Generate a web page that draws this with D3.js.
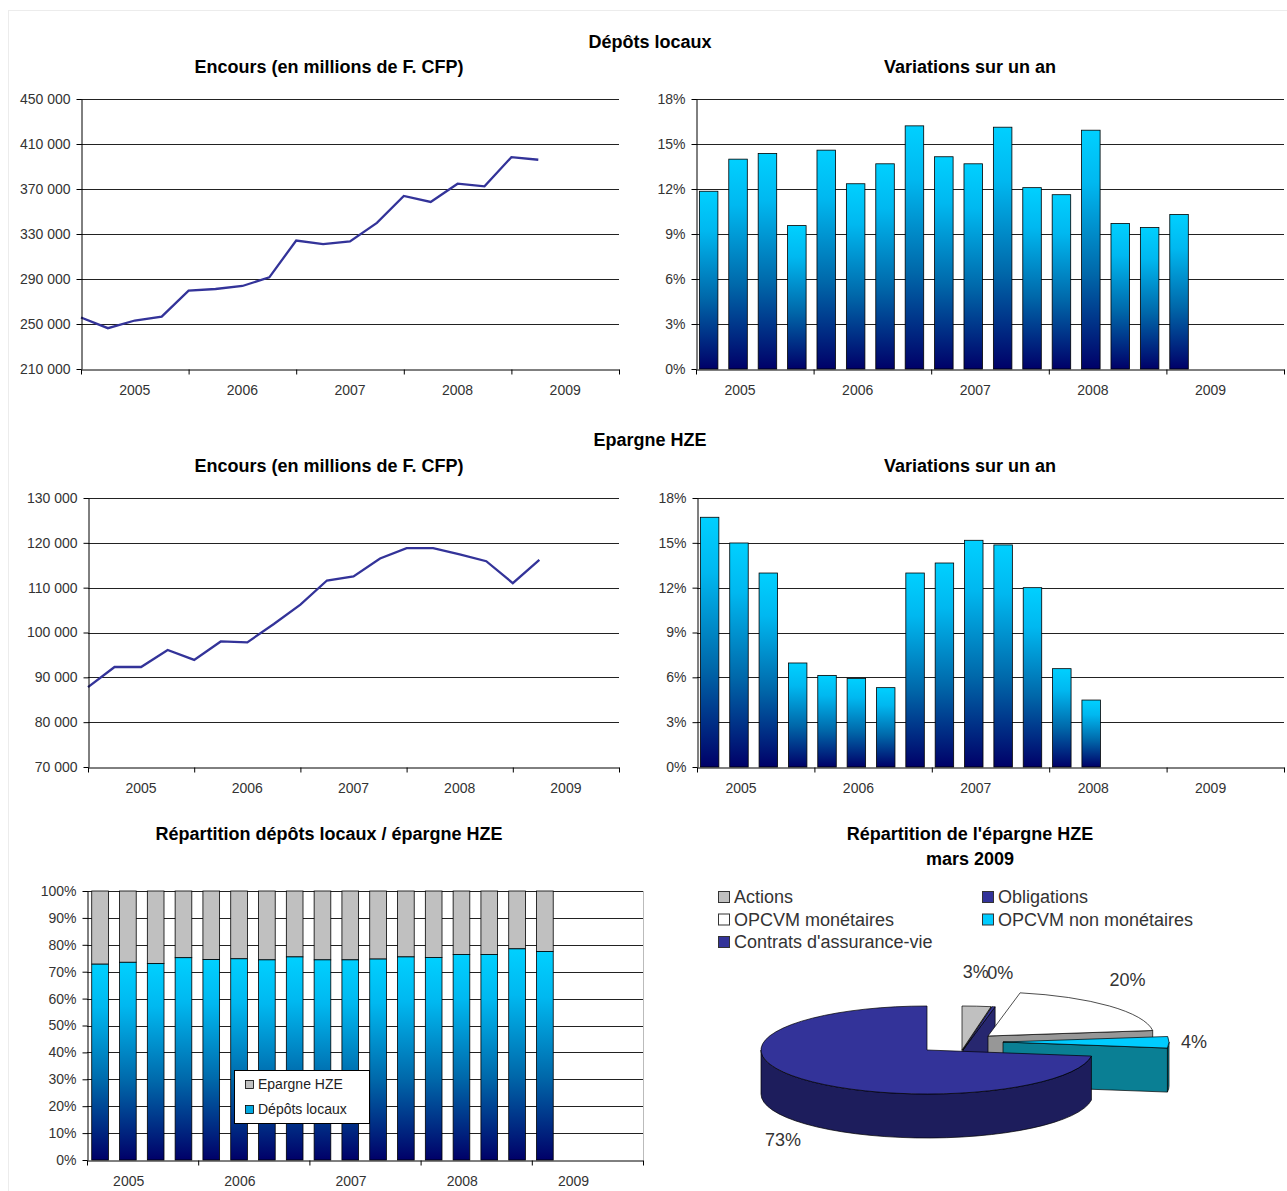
<!DOCTYPE html>
<html><head><meta charset="utf-8">
<script src="https://cdn.jsdelivr.net/npm/d3@7"></script>
<style>body{margin:0;background:#fff;} text{font-family:"Liberation Sans",Arial,sans-serif;}</style>
</head><body><svg id="c" width="1287" height="1191"></svg>
<script>
// ---------------- DATA ----------------
const years = ["2005","2006","2007","2008","2009"];
const depotsEncours = [255800,246300,253100,256600,279700,281100,283800,291500,324200,321000,323400,339900,363800,358500,374700,372400,398300,396000];
const depotsVar = [11.85,13.99,14.37,9.56,14.59,12.35,13.68,16.21,14.15,13.68,16.12,12.09,11.62,15.92,9.70,9.43,10.30];
const hzeEncours = [87800,92300,92300,96100,93900,98000,97800,101900,106200,111600,112500,116500,118800,118800,117400,115900,111000,116200];
const hzeVar = [16.71,14.99,12.98,6.96,6.13,5.93,5.31,12.98,13.65,15.17,14.86,12.0,6.58,4.48];
const partDepots = [72.8,73.5,73.0,75.2,74.5,74.8,74.4,75.5,74.4,74.4,74.7,75.5,75.3,76.4,76.4,78.5,77.5];
const depotsTicks = [210000,250000,290000,330000,370000,410000,450000];
const hzeTicks = [70000,80000,90000,100000,110000,120000,130000];
const varTicks = [0,3,6,9,12,15,18];
const partTicks = [0,10,20,30,40,50,60,70,80,90,100];
const pieNames = ["Actions","Obligations","OPCVM monétaires","OPCVM non monétaires","Contrats d'assurance-vie"];
const pieValues = [2.8,0.3,19.9,4.2,72.8];
const pieLabels = ["3%","0%","20%","4%","73%"];
const stackNames = ["Epargne HZE","Dépôts locaux"];

// ---------------- STYLE / LAYOUT ----------------
const svg = d3.select("#c");
const defs = svg.append("defs");
const grad = defs.append("linearGradient").attr("id","bg").attr("x1",0).attr("y1",0).attr("x2",0).attr("y2",1);
[[0,"#00d0ff"],[0.22,"#00b8f0"],[0.6,"#0068aa"],[1,"#000068"]].forEach(s=>grad.append("stop").attr("offset",s[0]).attr("stop-color",s[1]));

svg.append("rect").attr("x",8.5).attr("y",10.5).attr("width",1290).attr("height",1190).attr("fill","none").attr("stroke","#ececec");

const spaceFmt = v => d3.format(",")(v).replace(/,/g," ");
const pctFmt = v => v + "%";

function title(x,y,t){
  svg.append("text").attr("x",x).attr("y",y).attr("text-anchor","middle").attr("font-size",18).attr("font-weight","bold").attr("fill","#000").text(t);
}
title(650,48,"Dépôts locaux");
title(329,73,"Encours (en millions de F. CFP)");
title(970,73,"Variations sur un an");
title(650,446,"Epargne HZE");
title(329,472,"Encours (en millions de F. CFP)");
title(970,472,"Variations sur un an");
title(329,840,"Répartition dépôts locaux / épargne HZE");
title(970,840,"Répartition de l'épargne HZE");
title(970,865,"mars 2009");

function frame(o){
  const y = d3.scaleLinear().domain([o.ticks[0], o.ticks[o.ticks.length-1]]).range([o.yBot,o.yTop]);
  const xs = d3.scaleLinear().domain([0,20]).range([o.x0,o.x1]);
  const g = svg.append("g");
  g.selectAll("line").data(o.ticks.slice(1)).join("line")
    .attr("x1",o.x0).attr("x2",o.x1).attr("y1",d=>Math.round(y(d))+0.5).attr("y2",d=>Math.round(y(d))+0.5)
    .attr("stroke","#222").attr("stroke-width",1);
  const axes = svg.append("g").attr("class","axes");
  return {y, xs, g, axes, o};
}
function finishAxes(f){
  const o=f.o;
  const ya = f.axes.append("g").attr("transform",`translate(${o.x0+0.5},0)`)
    .call(d3.axisLeft(f.y).tickValues(o.ticks).tickFormat(o.fmt).tickSize(5).tickSizeOuter(0).tickPadding(6));
  const xa = f.axes.append("g").attr("transform",`translate(0,${o.yBot+0.5})`)
    .call(d3.axisBottom(f.xs).tickValues([0,4,8,12,16,20]).tickFormat("").tickSize(5).tickSizeOuter(0));
  [ya,xa].forEach(a=>{a.selectAll("path,line").attr("stroke","#000");
    a.selectAll("text").attr("font-size",14).attr("fill","#333").attr("font-family","Liberation Sans, Arial, sans-serif");});
  f.axes.selectAll("text.yl").data(years).join("text").attr("class","yl")
    .attr("x",(d,i)=>f.xs(i*4+o.labelAt)).attr("y",o.yBot+26).attr("text-anchor","middle")
    .attr("font-size",14).attr("fill","#333").text(d=>d);
}
function band(f, shift){
  const st = (f.o.x1-f.o.x0)/20;
  return d3.scaleBand().domain(d3.range(20)).range([f.o.x0-shift*st,f.o.x1-shift*st]).paddingInner(0.37).paddingOuter(0.185);
}

// Chart 1: dépôts encours
const f1 = frame({x0:81,x1:619,yTop:99,yBot:369,ticks:depotsTicks,fmt:spaceFmt,labelAt:2});
f1.g.append("path").datum(depotsEncours).attr("fill","none").attr("stroke","#333399").attr("stroke-width",2.3)
  .attr("d",d3.line().x((d,i)=>f1.xs(i)).y(d=>f1.y(d)));
finishAxes(f1);

// Chart 2: dépôts variations
const f2 = frame({x0:696,x1:1284,yTop:99,yBot:369,ticks:varTicks,fmt:pctFmt,labelAt:1.5});
const b2 = band(f2,0.07);
f2.g.selectAll("rect").data(depotsVar).join("rect").attr("x",(d,i)=>b2(i)).attr("width",b2.bandwidth())
  .attr("y",d=>f2.y(d)).attr("height",d=>f2.y(0)-f2.y(d)).attr("fill","url(#bg)").attr("stroke","#000").attr("stroke-width",0.8);
finishAxes(f2);

// Chart 3: HZE encours
const f3 = frame({x0:88,x1:619,yTop:498,yBot:767,ticks:hzeTicks,fmt:spaceFmt,labelAt:2});
f3.g.append("path").datum(hzeEncours).attr("fill","none").attr("stroke","#333399").attr("stroke-width",2.3)
  .attr("d",d3.line().x((d,i)=>f3.xs(i)).y(d=>f3.y(d)));
finishAxes(f3);

// Chart 4: HZE variations
const f4 = frame({x0:697,x1:1284,yTop:498,yBot:767,ticks:varTicks,fmt:pctFmt,labelAt:1.5});
const b4 = band(f4,0.07);
f4.g.selectAll("rect").data(hzeVar).join("rect").attr("x",(d,i)=>b4(i)).attr("width",b4.bandwidth())
  .attr("y",d=>f4.y(d)).attr("height",d=>f4.y(0)-f4.y(d)).attr("fill","url(#bg)").attr("stroke","#000").attr("stroke-width",0.8);
finishAxes(f4);

// Chart 5: stacked 100%
const f5 = frame({x0:87,x1:643,yTop:891,yBot:1160,ticks:partTicks,fmt:pctFmt,labelAt:1.5});
f5.g.append("line").attr("x1",643.5).attr("x2",643.5).attr("y1",891).attr("y2",1160).attr("stroke","#bbb");
const b5 = d3.scaleBand().domain(d3.range(20)).range([87-0.03*27.8,643-0.03*27.8]).paddingInner(0.4).paddingOuter(0.2);
f5.g.selectAll("rect.hze").data(partDepots).join("rect").attr("class","hze").attr("x",(d,i)=>b5(i)).attr("width",b5.bandwidth())
  .attr("y",f5.y(100)).attr("height",d=>f5.y(d)-f5.y(100)).attr("fill","#c0c0c0").attr("stroke","#000").attr("stroke-width",0.8);
f5.g.selectAll("rect.dep").data(partDepots).join("rect").attr("class","dep").attr("x",(d,i)=>b5(i)).attr("width",b5.bandwidth())
  .attr("y",d=>f5.y(d)).attr("height",d=>f5.y(0)-f5.y(d)).attr("fill","url(#bg)").attr("stroke","#000").attr("stroke-width",0.8);
finishAxes(f5);
// legend
const lg = svg.append("g");
lg.append("rect").attr("x",234.5).attr("y",1070.5).attr("width",135).attr("height",53).attr("fill","#fff").attr("stroke","#000");
stackNames.forEach((n,i)=>{
  lg.append("rect").attr("x",245.5).attr("y",1080.5+i*25).attr("width",8).attr("height",8)
    .attr("fill",i===0?"#c0c0c0":"#00a8e0").attr("stroke","#000").attr("stroke-width",0.8);
  lg.append("text").attr("x",258).attr("y",1089+i*25).attr("font-size",14).attr("fill","#222").text(n);
});

// Pie chart (3D exploded)
const rx=166, ry=44, depth=44;
const pieApex = [[962,1050],[963,1050],[988,1036],[1003,1042],[927,1050]];
const pieTop = ["#c0c0c0","#333399","#ffffff","#00ccff","#333399"];
const pieSide = ["#8c8c8c","#27276f","#979797","#0a7f94","#1d1d5c"];
const arcs = d3.pie().sort(null)(pieValues).map((a,i)=>({i, a0:a.startAngle-Math.PI/2, a1:a.endAngle-Math.PI/2, c:pieApex[i]}));
const P = (c,a,dy=0)=>[c[0]+rx*Math.cos(a), c[1]+ry*Math.sin(a)+dy];
const pg = svg.append("g").attr("stroke","#000").attr("stroke-width",0.7).attr("stroke-linejoin","round");
arcs.slice().sort((p,q)=>Math.sin((p.a0+p.a1)/2)-Math.sin((q.a0+q.a1)/2)).forEach(s=>{
  const c=s.c;
  for(let k=-1;k<=1;k++){
    const st=Math.max(s.a0,2*Math.PI*k), en=Math.min(s.a1,Math.PI+2*Math.PI*k);
    if(st<en){
      const la = en-st>Math.PI?1:0;
      pg.append("path").attr("fill",pieSide[s.i]).attr("d",
        `M${P(c,st)}A${rx},${ry} 0 ${la} 1 ${P(c,en)}L${P(c,en,depth)}A${rx},${ry} 0 ${la} 0 ${P(c,st,depth)}Z`);
    }
  }
  const face = a=>`M${c}L${P(c,a)}L${P(c,a,depth)}L${c[0]},${c[1]+depth}Z`;
  if(Math.cos(s.a0)<-1e-9) pg.append("path").attr("fill",pieSide[s.i]).attr("d",face(s.a0));
  if(Math.cos(s.a1)>1e-9) pg.append("path").attr("fill",pieSide[s.i]).attr("d",face(s.a1));
  pg.append("path").attr("fill",pieTop[s.i]).attr("d",
    `M${c}L${P(c,s.a0)}A${rx},${ry} 0 ${s.a1-s.a0>Math.PI?1:0} 1 ${P(c,s.a1)}Z`);
});
// percentage labels placed outside each slice along its mid-angle
const labelAnchor = ["end","start","middle","middle","middle"];
arcs.forEach(s=>{
  const m=(s.a0+s.a1)/2, sn=Math.sin(m);
  let x = s.c[0]+rx*1.15*Math.cos(m);
  if(labelAnchor[s.i]==="end") x += 10;
  if(labelAnchor[s.i]==="start") x -= 11;
  const y = s.c[1]+ry*1.6*sn+(sn>0.3?depth:(sn<-0.3?-8:0));
  svg.append("text").attr("x",x).attr("y",y)
    .attr("text-anchor",labelAnchor[s.i]).attr("dominant-baseline","central").attr("font-size",18).attr("fill","#333").text(pieLabels[s.i]);
});
// pie legend
const pl = svg.append("g");
pieNames.forEach((n,i)=>{
  const col=i===4?0:i%2, row=i===4?2:Math.floor(i/2);
  const x=718+col*264, y=897+row*22.5;
  pl.append("rect").attr("x",x+0.5).attr("y",y-5.5).attr("width",11).attr("height",11).attr("fill",pieTop[i]).attr("stroke","#333");
  pl.append("text").attr("x",x+16).attr("y",y).attr("dominant-baseline","central").attr("font-size",18).attr("fill","#333").text(n);
});
</script></body></html>
